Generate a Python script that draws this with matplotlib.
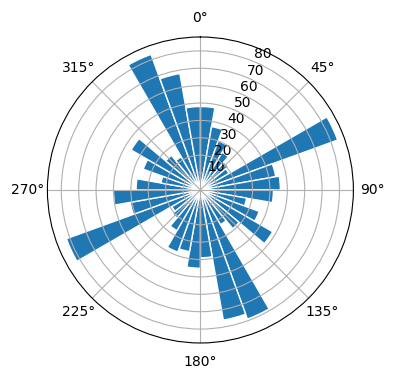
import numpy as np
import matplotlib
matplotlib.use('Agg')
import matplotlib.pyplot as plt

# direction bins (degrees, clockwise from north) and bar lengths
bin_start = np.arange(0, 360, 10)
counts = [48, 37, 30, 25, 21, 19, 84, 44, 46,
          42, 27, 36, 48, 29, 23, 79, 76, 39,
          45, 36, 38, 27, 21, 19, 82, 41, 50,
          37, 23, 35, 46, 26, 22, 83, 68, 48]
r_ticks = [10, 20, 30, 40, 50, 60, 70, 80]

theta = np.deg2rad(bin_start + 5)
width = np.deg2rad(10)

fig = plt.figure(figsize=(3.96, 3.8), dpi=100)
ax = fig.add_axes([0.1197, 0.0974, 0.7727, 0.8053], projection='polar')
ax.set_theta_zero_location('N')
ax.set_theta_direction(-1)
ax.bar(theta, counts, width=width, color='#1f77b4', edgecolor='white', linewidth=1)
ax.set_ylim(0, 88)
ax.set_yticks(r_ticks)

fig.savefig('out.png', dpi=100)
